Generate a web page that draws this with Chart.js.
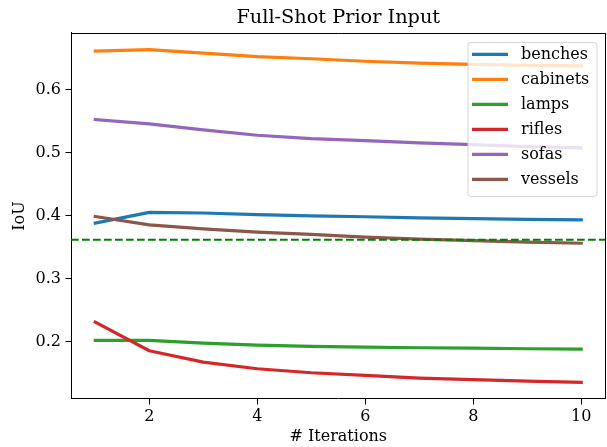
<!DOCTYPE html>
<html>
<head>
<meta charset="utf-8">
<title>Full-Shot Prior Input</title>
<script src="https://cdn.jsdelivr.net/npm/chart.js@4.4.1/dist/chart.umd.min.js"></script>
<style>
  html, body { margin: 0; padding: 0; background: #fff; }
  #wrap { width: 607px; height: 447px; }
</style>
</head>
<body>
<div id="wrap"><canvas id="iou-chart" width="607" height="447"></canvas></div>
<script>
// values
const iterations = [1, 2, 3, 4, 5, 6, 7, 8, 9, 10];
const categories = ['benches', 'cabinets', 'lamps', 'rifles', 'sofas', 'vessels'];
const benches  = [0.388, 0.405, 0.404, 0.4015, 0.3995, 0.398, 0.3963, 0.395, 0.394, 0.393];
const cabinets = [0.661, 0.6635, 0.658, 0.6524, 0.649, 0.645, 0.642, 0.640, 0.6386, 0.6376];
const lamps    = [0.2016, 0.2016, 0.1973, 0.1941, 0.192, 0.191, 0.190, 0.1894, 0.1884, 0.1878];
const rifles   = [0.2306, 0.1852, 0.1672, 0.1566, 0.1503, 0.146, 0.1418, 0.1392, 0.137, 0.135];
const sofas    = [0.5524, 0.5456, 0.536, 0.5275, 0.522, 0.519, 0.5154, 0.5127, 0.5095, 0.5075];
const vessels  = [0.3984, 0.3852, 0.3789, 0.3735, 0.370, 0.3656, 0.3625, 0.360, 0.3576, 0.356];
const baseline = 0.3615;
const xTicks = [2, 4, 6, 8, 10];
const yTicks = [0.2, 0.3, 0.4, 0.5, 0.6];

(function() {
    'use strict';

    const FONT = "'DejaVu Serif', serif";
    const colors = ['#1f77b4', '#ff7f0e', '#2ca02c', '#d62728', '#9467bd', '#8c564b'];
    const series = [benches, cabinets, lamps, rifles, sofas, vessels];

    // matplotlib style 5% margins
    function limits(vals) {
        const lo = Math.min(...vals), hi = Math.max(...vals);
        const m = (hi - lo) * 0.05;
        return [lo - m, hi + m];
    }
    const [xMin, xMax] = limits(iterations);
    const [yMin, yMax] = limits(series.flat());

    const datasets = categories.map((name, i) => ({
        label: name,
        data: iterations.map((it, j) => ({ x: it, y: series[i][j] })),
        borderColor: colors[i],
        backgroundColor: colors[i],
        borderWidth: 3.2,
        borderCapStyle: 'square',
        borderJoinStyle: 'round',
        pointRadius: 0,
        tension: 0,
        fill: false,
        order: -i
    }));

    // dashed reference line across the whole axes
    const refLine = {
        id: 'refLine',
        afterDatasetsDraw(chart) {
            const { ctx, chartArea: a, scales } = chart;
            const y = scales.y.getPixelForValue(baseline);
            ctx.save();
            ctx.beginPath();
            ctx.rect(a.left, a.top, a.right - a.left, a.bottom - a.top);
            ctx.clip();
            ctx.strokeStyle = '#008000';
            ctx.lineWidth = 2;
            ctx.setLineDash([7.7, 3.3]);
            ctx.beginPath();
            ctx.moveTo(a.left, y);
            ctx.lineTo(a.right, y);
            ctx.stroke();
            ctx.restore();
        }
    };

    // top + right spines
    const frame = {
        id: 'frame',
        afterDatasetsDraw(chart) {
            const { ctx, chartArea: a } = chart;
            ctx.save();
            ctx.strokeStyle = '#000';
            ctx.lineWidth = 1;
            ctx.beginPath();
            ctx.moveTo(a.left, Math.round(a.top) + 0.5);
            ctx.lineTo(a.right, Math.round(a.top) + 0.5);
            ctx.moveTo(Math.round(a.right) - 0.5, a.top);
            ctx.lineTo(Math.round(a.right) - 0.5, a.bottom);
            ctx.stroke();
            ctx.restore();
        }
    };

    // legend box in the upper right corner, drawn over the lines
    const boxLegend = {
        id: 'boxLegend',
        afterDraw(chart) {
            const { ctx, chartArea: a } = chart;
            const w = 129, h = 154, rowH = 25;
            const x0 = a.right - 138, y0 = a.top + 9;
            ctx.save();
            ctx.beginPath();
            ctx.roundRect(x0 + 0.5, y0 + 0.5, w, h, 3);
            ctx.fillStyle = 'rgba(255,255,255,0.8)';
            ctx.fill();
            ctx.strokeStyle = 'rgba(204,204,204,0.8)';
            ctx.lineWidth = 1;
            ctx.stroke();
            ctx.font = '16px ' + FONT;
            ctx.textBaseline = 'middle';
            ctx.textAlign = 'left';
            chart.data.datasets.forEach((ds, i) => {
                const y = y0 + 12.5 + i * rowH;
                ctx.strokeStyle = ds.borderColor;
                ctx.lineWidth = 3.2;
                ctx.beginPath();
                ctx.moveTo(x0 + 4.5, y);
                ctx.lineTo(x0 + 40.5, y);
                ctx.stroke();
                ctx.fillStyle = '#000';
                ctx.fillText(ds.label, x0 + 53.5, y);
            });
            ctx.restore();
        }
    };

    const tickFont = { family: FONT, size: 16 };

    new Chart(document.getElementById('iou-chart').getContext('2d'), {
        type: 'line',
        data: { datasets },
        plugins: [refLine, frame, boxLegend],
        options: {
            responsive: false,
            animation: false,
            devicePixelRatio: 1,
            layout: { padding: { left: 0, right: 1.5, top: 0, bottom: 0 } },
            plugins: {
                legend: { display: false },
                tooltip: { enabled: false },
                title: {
                    display: true,
                    text: 'Full-Shot Prior Input',
                    fullSize: false,
                    color: '#000',
                    font: { family: FONT, size: 19.3, weight: 'normal' },
                    padding: { top: 6, bottom: 3.8 }
                }
            },
            scales: {
                x: {
                    type: 'linear',
                    min: xMin,
                    max: xMax,
                    afterBuildTicks: s => { s.ticks = xTicks.map(v => ({ value: v })); },
                    afterFit: s => { s.height = 48; s.paddingLeft = 0; s.paddingRight = 0; },
                    grid: { display: true, drawOnChartArea: false, drawTicks: true, tickLength: 5.5, color: '#000', lineWidth: 1 },
                    border: { display: true, color: '#000', width: 1 },
                    ticks: { font: tickFont, color: '#000', padding: 3, maxRotation: 0, autoSkip: false, callback: v => String(v) },
                    title: { display: true, text: '# Iterations', color: '#000', font: tickFont, padding: { top: 0, bottom: 0.4 } }
                },
                y: {
                    type: 'linear',
                    min: yMin,
                    max: yMax,
                    afterBuildTicks: s => { s.ticks = yTicks.map(v => ({ value: v })); },
                    afterFit: s => { s.width = 71; s.paddingTop = 0; s.paddingBottom = 0; },
                    grid: { display: true, drawOnChartArea: false, drawTicks: true, tickLength: 5.5, color: '#000', lineWidth: 1 },
                    border: { display: true, color: '#000', width: 1 },
                    ticks: { font: tickFont, color: '#000', padding: 4.5, autoSkip: false, callback: v => v.toFixed(1) },
                    title: { display: true, text: 'IoU', color: '#000', font: tickFont, padding: { top: 10.4, bottom: 0 } }
                }
            }
        }
    });
})();
</script>
</body>
</html>
